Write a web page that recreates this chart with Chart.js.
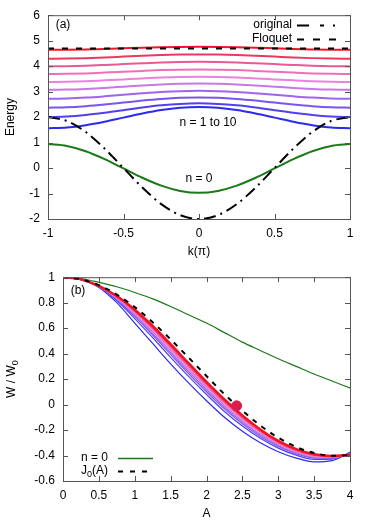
<!DOCTYPE html>
<html>
<head>
<meta charset="utf-8">
<script src="https://cdn.jsdelivr.net/npm/chart.js@4.4.1/dist/chart.umd.min.js"></script>
<style>
  html, body { margin: 0; padding: 0; background: #fff; }
  #wrap { position: relative; width: 374px; height: 523px; }
  canvas { position: absolute; left: 0; }
</style>
</head>
<body>
<div id="wrap">
  <canvas id="panelA" width="374" height="262" style="top:0"></canvas>
  <canvas id="panelB" width="374" height="261" style="top:262px"></canvas>
</div>
<script>
// ---- panel (a): quasi-energy bands vs k (units of pi)
const kVals = [-1, -0.875, -0.75, -0.625, -0.5, -0.375, -0.25, -0.125, 0, 0.125, 0.25, 0.375, 0.5, 0.625, 0.75, 0.875, 1];
const original = [2, 1.848, 1.414, 0.765, 0, -0.765, -1.414, -1.848, -2, -1.848, -1.414, -0.765, 0, 0.765, 1.414, 1.848, 2];
const floquet = [4.69, 4.69, 4.69, 4.69, 4.69, 4.69, 4.69, 4.69, 4.69, 4.69, 4.69, 4.69, 4.69, 4.69, 4.69, 4.69, 4.69];
const band0 = [0.94, 0.867, 0.66, 0.351, -0.015, -0.381, -0.69, -0.897, -0.97, -0.897, -0.69, -0.381, -0.015, 0.351, 0.66, 0.867, 0.94];
const band1 = [1.56, 1.592, 1.683, 1.819, 1.98, 2.141, 2.277, 2.368, 2.40, 2.368, 2.277, 2.141, 1.98, 1.819, 1.683, 1.592, 1.56];
const band2 = [2.00, 2.021, 2.079, 2.167, 2.27, 2.373, 2.461, 2.519, 2.54, 2.519, 2.461, 2.373, 2.27, 2.167, 2.079, 2.021, 2.00];
const band3 = [2.37, 2.385, 2.429, 2.493, 2.57, 2.647, 2.711, 2.755, 2.77, 2.755, 2.711, 2.647, 2.57, 2.493, 2.429, 2.385, 2.37];
const band4 = [2.72, 2.732, 2.765, 2.816, 2.875, 2.934, 2.985, 3.018, 3.03, 3.018, 2.985, 2.934, 2.875, 2.816, 2.765, 2.732, 2.72];
const band5 = [3.07, 3.08, 3.107, 3.147, 3.195, 3.243, 3.283, 3.31, 3.32, 3.31, 3.283, 3.243, 3.195, 3.147, 3.107, 3.08, 3.07];
const band6 = [3.38, 3.388, 3.409, 3.442, 3.48, 3.518, 3.551, 3.572, 3.58, 3.572, 3.551, 3.518, 3.48, 3.442, 3.409, 3.388, 3.38];
const band7 = [3.69, 3.697, 3.716, 3.746, 3.78, 3.814, 3.844, 3.863, 3.87, 3.863, 3.844, 3.814, 3.78, 3.746, 3.716, 3.697, 3.69];
const band8 = [3.99, 3.997, 4.016, 4.046, 4.08, 4.114, 4.144, 4.163, 4.17, 4.163, 4.144, 4.114, 4.08, 4.046, 4.016, 3.997, 3.99];
const band9 = [4.29, 4.296, 4.315, 4.342, 4.375, 4.408, 4.435, 4.454, 4.46, 4.454, 4.435, 4.408, 4.375, 4.342, 4.315, 4.296, 4.29];
const band10 = [4.64, 4.645, 4.658, 4.677, 4.70, 4.723, 4.742, 4.755, 4.76, 4.755, 4.742, 4.723, 4.70, 4.677, 4.658, 4.645, 4.64];
const bandsA = [band1, band2, band3, band4, band5, band6, band7, band8, band9, band10];

// ---- panel (b): W / W0 vs A
const aVals = [0, 0.25, 0.5, 0.75, 1, 1.25, 1.5, 1.75, 2, 2.25, 2.5, 2.75, 3, 3.25, 3.5, 3.75, 4];
const wN0 = [1, 0.99, 0.96, 0.925, 0.88, 0.83, 0.77, 0.705, 0.64, 0.565, 0.49, 0.425, 0.36, 0.30, 0.24, 0.185, 0.13];
const j0 = [1, 0.984, 0.938, 0.864, 0.765, 0.646, 0.512, 0.369, 0.224, 0.081, -0.048, -0.164, -0.260, -0.333, -0.380, -0.402, -0.397];
const w1 = [1, 0.98, 0.92, 0.80, 0.64, 0.48, 0.32, 0.17, 0.03, -0.10, -0.21, -0.30, -0.37, -0.42, -0.45, -0.44, -0.375];
const w2 = [1, 0.981, 0.924, 0.817, 0.675, 0.525, 0.371, 0.221, 0.079, -0.054, -0.169, -0.265, -0.342, -0.397, -0.430, -0.428, -0.382];
const w3 = [1, 0.981, 0.926, 0.825, 0.690, 0.546, 0.394, 0.244, 0.101, -0.033, -0.150, -0.250, -0.329, -0.386, -0.421, -0.422, -0.385];
const w4 = [1, 0.982, 0.927, 0.830, 0.701, 0.559, 0.409, 0.260, 0.116, -0.019, -0.137, -0.239, -0.321, -0.379, -0.415, -0.419, -0.387];
const w5 = [1, 0.982, 0.928, 0.835, 0.710, 0.572, 0.423, 0.274, 0.129, -0.006, -0.126, -0.230, -0.313, -0.373, -0.410, -0.415, -0.388];
const w6 = [1, 0.982, 0.929, 0.839, 0.719, 0.583, 0.436, 0.286, 0.141, 0.005, -0.116, -0.221, -0.306, -0.368, -0.405, -0.412, -0.390];
const w7 = [1, 0.982, 0.930, 0.842, 0.725, 0.591, 0.445, 0.296, 0.150, 0.013, -0.109, -0.215, -0.301, -0.363, -0.401, -0.410, -0.391];
const w8 = [1, 0.983, 0.930, 0.845, 0.730, 0.598, 0.452, 0.303, 0.157, 0.020, -0.103, -0.210, -0.297, -0.360, -0.398, -0.408, -0.392];
const w9 = [1, 0.983, 0.931, 0.848, 0.737, 0.606, 0.462, 0.313, 0.166, 0.029, -0.095, -0.203, -0.292, -0.356, -0.395, -0.406, -0.393];
const w10 = [1, 0.983, 0.932, 0.852, 0.745, 0.617, 0.474, 0.325, 0.178, 0.040, -0.085, -0.195, -0.285, -0.350, -0.390, -0.403, -0.395];
const bandsB = [w1, w2, w3, w4, w5, w6, w7, w8, w9, w10];
const zeroA = [2.42];
const zeroW = [-0.01];

// blue -> violet -> red, n = 1..10
const palette = ['#2a2af5', '#5040f0', '#7a55ee', '#a064ec', '#c878e6', '#ec82dc', '#f070b8', '#ec5890', '#e83a60', '#f21424'];

const FONT = '"Liberation Sans", Arial, sans-serif';
Chart.defaults.font.family = FONT;
Chart.defaults.font.size = 12;
Chart.defaults.color = '#000';

const pts = (xs, ys) => xs.map((x, i) => ({ x: x, y: ys[i] }));
const fmt = v => String(Number(v.toFixed(2)));

function line(xs, ys, color, width, dash) {
  return {
    data: pts(xs, ys), showLine: true, borderColor: color, borderWidth: width,
    borderDash: dash || [], pointRadius: 0, cubicInterpolationMode: 'monotone', fill: false
  };
}

// text with subscripts: parts = [[text, isSub], ...]
function richWidth(ctx, parts) {
  let w = 0;
  parts.forEach(p => { ctx.font = (p[1] ? '9px ' : '12px ') + FONT; w += ctx.measureText(p[0]).width; });
  return w;
}
function drawRich(ctx, parts, x, y, align) {
  const w = richWidth(ctx, parts);
  let cx = align === 'right' ? x - w : align === 'center' ? x - w / 2 : x;
  ctx.textAlign = 'left';
  ctx.textBaseline = 'middle';
  parts.forEach(p => {
    ctx.font = (p[1] ? '9px ' : '12px ') + FONT;
    ctx.fillText(p[0], cx, p[1] ? y + 4 : y);
    cx += ctx.measureText(p[0]).width;
  });
}

const framePlugin = {
  id: 'frame',
  afterDraw(chart, args, o) {
    const { ctx, chartArea: a } = chart;
    const xs = chart.scales.x, ys = chart.scales.y;
    ctx.save();
    ctx.strokeStyle = '#555';
    ctx.lineWidth = 1;
    ctx.setLineDash([]);
    ctx.strokeRect(a.left + 0.5, a.top + 0.5, a.right - a.left, a.bottom - a.top);
    ctx.beginPath();
    xs.ticks.forEach(t => {
      const p = Math.round(xs.getPixelForValue(t.value)) + 0.5;
      ctx.moveTo(p, a.bottom); ctx.lineTo(p, a.bottom - 5);
      ctx.moveTo(p, a.top); ctx.lineTo(p, a.top + 5);
    });
    ys.ticks.forEach(t => {
      const p = Math.round(ys.getPixelForValue(t.value)) + 0.5;
      ctx.moveTo(a.left, p); ctx.lineTo(a.left + 5, p);
      ctx.moveTo(a.right, p); ctx.lineTo(a.right - 5, p);
    });
    ctx.stroke();

    ctx.fillStyle = '#000';
    (o.texts || []).forEach(t => drawRich(ctx, t.parts, t.x, t.y, t.align || 'center'));

    // axis titles
    drawRich(ctx, o.xTitle, (a.left + a.right) / 2, o.xTitleY, 'center');
    ctx.save();
    ctx.translate(o.yTitleX, (a.top + a.bottom) / 2);
    ctx.rotate(-Math.PI / 2);
    drawRich(ctx, o.yTitle, 0, 0, 'center');
    ctx.restore();

    // key
    (o.key || []).forEach(k => {
      ctx.fillStyle = '#000';
      drawRich(ctx, k.parts, k.textRight, k.y, 'right');
      ctx.beginPath();
      ctx.strokeStyle = k.color;
      ctx.lineWidth = k.width;
      ctx.setLineDash(k.dash);
      ctx.moveTo(k.x1, k.y + 0.5);
      ctx.lineTo(k.x2, k.y + 0.5);
      ctx.stroke();
    });
    ctx.restore();
  }
};

function axes(xMin, xMax, xStep, yMin, yMax, yStep, yWidth, xHeight) {
  return {
    x: {
      type: 'linear', min: xMin, max: xMax,
      ticks: { stepSize: xStep, padding: 7, maxRotation: 0, callback: fmt },
      grid: { display: false, drawTicks: false }, border: { display: false },
      afterFit: s => { s.height = xHeight; }
    },
    y: {
      type: 'linear', min: yMin, max: yMax,
      ticks: { stepSize: yStep, padding: 8, callback: fmt },
      grid: { display: false, drawTicks: false }, border: { display: false },
      afterFit: s => { s.width = yWidth; }
    }
  };
}

// ---- panel (a)
const dsA = [];
dsA.push(line(kVals, floquet, '#000', 2, [6, 8]));
dsA.push(line(kVals, original, '#000', 2, [12, 5, 2, 5]));
bandsA.slice().reverse().forEach((b, i) => dsA.push(line(kVals, b, palette[9 - i], 2)));
dsA.push(line(kVals, band0, '#1a7a1a', 2));

new Chart(document.getElementById('panelA'), {
  type: 'scatter',
  data: { datasets: dsA },
  options: {
    responsive: false, animation: false, events: [],
    layout: { padding: { left: 0, top: 15, right: 24, bottom: 0 } },
    scales: axes(-1, 1, 0.5, -2, 6, 1, 48, 43),
    plugins: {
      legend: { display: false }, tooltip: { enabled: false },
      frame: {
        texts: [
          { parts: [['(a)']], x: 63, y: 25 },
          { parts: [['n = 1 to 10']], x: 208, y: 123 },
          { parts: [['n = 0']], x: 199, y: 179 }
        ],
        xTitle: [['k(π)']], xTitleY: 252,
        yTitle: [['Energy']], yTitleX: 11,
        key: [
          { parts: [['original']], textRight: 292, y: 25, x1: 297, x2: 338, color: '#000', width: 2, dash: [12, 11, 4, 9, 2, 40] },
          { parts: [['Floquet']], textRight: 292, y: 39, x1: 297, x2: 338, color: '#000', width: 2, dash: [7, 9] }
        ]
      }
    }
  },
  plugins: [framePlugin]
});

// ---- panel (b)
const dsB = [];
dsB.push({ data: pts(zeroA, zeroW), pointRadius: 5, pointBackgroundColor: '#dc1c4a', pointBorderColor: '#dc1c4a', showLine: false });
dsB.push(line(aVals, j0, '#000', 2, [5, 6]));
dsB.push(line(aVals, w10, palette[9], 2.5));
bandsB.slice(0, 9).reverse().forEach((b, i) => dsB.push(line(aVals, b, palette[8 - i], 1.2)));
dsB.push(line(aVals, wN0, '#1a7a1a', 1.2));

new Chart(document.getElementById('panelB'), {
  type: 'scatter',
  data: { datasets: dsB },
  options: {
    responsive: false, animation: false, events: [],
    layout: { padding: { left: 0, top: 15, right: 24, bottom: 0 } },
    scales: axes(0, 4, 0.5, -0.6, 1, 0.2, 63, 42),
    plugins: {
      legend: { display: false }, tooltip: { enabled: false },
      frame: {
        texts: [
          { parts: [['(b)']], x: 78, y: 29 }
        ],
        xTitle: [['A']], xTitleY: 252,
        yTitle: [['W / W'], ['0', true]], yTitleX: 12,
        key: [
          { parts: [['n = 0']], textRight: 108, y: 196, x1: 118, x2: 153, color: '#1a7a1a', width: 1.5, dash: [] },
          { parts: [['J'], ['0', true], ['(A)']], textRight: 108, y: 209, x1: 118, x2: 153, color: '#000', width: 2, dash: [5, 7] }
        ]
      }
    }
  },
  plugins: [framePlugin]
});
</script>
</body>
</html>
